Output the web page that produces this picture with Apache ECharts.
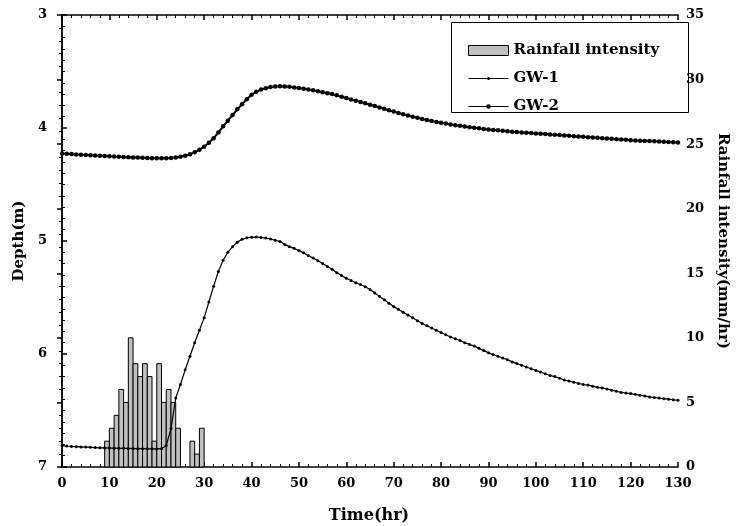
<!DOCTYPE html>
<html>
<head>
<meta charset="utf-8">
<script src="https://cdn.jsdelivr.net/npm/echarts@6/dist/echarts.min.js"></script>
<style>
    html, body { margin: 0; padding: 0; background: #fff; }
    #chart { width: 738px; height: 526px; }
</style>
</head>
<body>
<div id="chart"></div>
<script>
// 降雨强度：每小时一根柱子（时间为柱子中心）
const rainHours = [9.5, 10.5, 11.5, 12.5, 13.5, 14.5, 15.5, 16.5, 17.5, 18.5, 19.5, 20.5, 21.5, 22.5, 23.5, 24.5, 27.5, 28.5, 29.5];
const rainValues = [2, 3, 4, 6, 5, 10, 8, 7, 8, 7, 2, 8, 5, 6, 5, 3, 2, 1, 3];

// 地下水位深度，0~130 hr 每小时一个值
const gw1 = [
    6.810, 6.815, 6.818, 6.820, 6.822, 6.824, 6.826, 6.828, 6.830, 6.831,
    6.832, 6.833, 6.834, 6.835, 6.836, 6.837, 6.838, 6.838, 6.839, 6.839,
    6.840, 6.838, 6.810, 6.660, 6.390, 6.270, 6.140, 6.020, 5.900, 5.790,
    5.680, 5.540, 5.400, 5.270, 5.170, 5.100, 5.050, 5.010, 4.985, 4.972,
    4.966, 4.965, 4.968, 4.974, 4.982, 4.993, 5.005, 5.030, 5.050, 5.065,
    5.085, 5.105, 5.130, 5.150, 5.175, 5.200, 5.225, 5.250, 5.280, 5.305,
    5.330, 5.350, 5.370, 5.385, 5.405, 5.430, 5.460, 5.490, 5.520, 5.550,
    5.580, 5.605, 5.630, 5.655, 5.680, 5.705, 5.730, 5.750, 5.770, 5.790,
    5.810, 5.830, 5.850, 5.865, 5.880, 5.900, 5.915, 5.930, 5.950, 5.970,
    5.990, 6.005, 6.020, 6.035, 6.050, 6.070, 6.085, 6.100, 6.115, 6.130,
    6.145, 6.160, 6.175, 6.190, 6.200, 6.215, 6.230, 6.240, 6.250, 6.260,
    6.270, 6.275, 6.285, 6.295, 6.300, 6.310, 6.320, 6.330, 6.340, 6.345,
    6.350, 6.357, 6.365, 6.372, 6.380, 6.385, 6.390, 6.395, 6.400, 6.405,
    6.410
];
const gw2 = [
    4.225, 4.228, 4.231, 4.234, 4.237, 4.240, 4.242, 4.244, 4.246, 4.248,
    4.250, 4.252, 4.254, 4.256, 4.258, 4.260, 4.262, 4.264, 4.266, 4.267,
    4.268, 4.268, 4.267, 4.265, 4.261, 4.255, 4.246, 4.233, 4.215, 4.192,
    4.165, 4.130, 4.090, 4.040, 3.985, 3.935, 3.885, 3.835, 3.790, 3.745,
    3.705, 3.680, 3.660, 3.648, 3.638, 3.633, 3.631, 3.632, 3.636, 3.641,
    3.647, 3.653, 3.660, 3.667, 3.675, 3.683, 3.692, 3.700, 3.711, 3.723,
    3.735, 3.747, 3.758, 3.770, 3.782, 3.794, 3.806, 3.818, 3.830, 3.843,
    3.855, 3.867, 3.878, 3.890, 3.900, 3.910, 3.920, 3.930, 3.938, 3.946,
    3.954, 3.961, 3.968, 3.975, 3.981, 3.987, 3.993, 3.998, 4.003, 4.008,
    4.013, 4.017, 4.021, 4.025, 4.029, 4.033, 4.036, 4.039, 4.042, 4.045,
    4.048, 4.051, 4.054, 4.057, 4.060, 4.063, 4.066, 4.069, 4.072, 4.075,
    4.078, 4.081, 4.084, 4.087, 4.090, 4.093, 4.096, 4.099, 4.102, 4.105,
    4.108, 4.110, 4.112, 4.114, 4.116, 4.118, 4.120, 4.122, 4.124, 4.126,
    4.128
];

// 坐标轴范围
const timeMin = 0, timeMax = 130, timeStep = 10;
const depthMin = 3, depthMax = 7, depthStep = 1;
const rainMin = 0, rainMax = 35, rainStep = 5;
const barSpan = 1; // 每根柱子占 1 hr

window.onload = function(){
    const font = 'DejaVu Serif';
    const chart = echarts.init(document.getElementById('chart'), null, {renderer: 'canvas'});

    const lineStyle = {color: '#000', width: 1.5};
    const labelStyle = {color: '#000', fontFamily: font, fontWeight: 'bold', fontSize: 13};
    const nameStyle = {color: '#000', fontFamily: font, fontWeight: 'bold', fontSize: 15};
    const barStyle = {color: '#c0c0c0', borderColor: '#000', borderWidth: 1};

    // 图例里的线+点图标（40x10）
    const iconGW1 = 'path://M0,4.5L40,4.5L40,5.5L0,5.5Z M18.5,5A1.5,1.5 0 1,1 21.5,5A1.5,1.5 0 1,1 18.5,5Z';
    const iconGW2 = 'path://M0,4.4L40,4.4L40,5.6L0,5.6Z M17.8,5A2.2,2.2 0 1,1 22.2,5A2.2,2.2 0 1,1 17.8,5Z';

    const option = {
        animation: false,
        backgroundColor: '#fff',
        grid: {left: 62, right: 46, top: 15, bottom: 59},
        legend: {
            orient: 'vertical',
            left: 463,
            top: 38,
            itemWidth: 40,
            itemHeight: 10,
            itemGap: 13,
            textStyle: {color: '#000', fontFamily: font, fontWeight: 'bold', fontSize: 15},
            data: [
                {name: 'Rainfall intensity', icon: 'rect', itemStyle: barStyle},
                {name: 'GW-1', icon: iconGW1, itemStyle: {color: '#000', borderWidth: 0}},
                {name: 'GW-2', icon: iconGW2, itemStyle: {color: '#000', borderWidth: 0}}
            ]
        },
        graphic: [{
            type: 'rect',
            left: 451, top: 22,
            shape: {width: 237, height: 90},
            style: {fill: 'rgba(255,255,255,0)', stroke: '#000', lineWidth: 1},
            z: 100
        }, {
            type: 'text',
            left: 'center',
            top: 508,
            style: {text: 'Time(hr)', fill: '#000', font: 'bold 16px "DejaVu Serif"'}
        }],
        xAxis: [{
            type: 'value',
            position: 'bottom',
            min: timeMin, max: timeMax, interval: timeStep,
            axisLine: {lineStyle: lineStyle},
            axisTick: {inside: true, length: 5, lineStyle: lineStyle},
            minorTick: {show: true, splitNumber: 5, length: 3, lineStyle: {color: '#000'}},
            axisLabel: Object.assign({margin: 10}, labelStyle),
            splitLine: {show: false}
        }, {
            type: 'value',
            position: 'top',
            min: timeMin, max: timeMax, interval: timeStep,
            axisLine: {lineStyle: lineStyle},
            axisTick: {inside: true, length: 5, lineStyle: lineStyle},
            minorTick: {show: true, splitNumber: 5, length: 3, lineStyle: {color: '#000'}},
            axisLabel: {show: false},
            splitLine: {show: false}
        }],
        yAxis: [{
            type: 'value',
            name: 'Depth(m)',
            nameLocation: 'middle',
            nameGap: 33,
            nameTextStyle: nameStyle,
            inverse: true,
            min: depthMin, max: depthMax, interval: depthStep,
            axisLine: {lineStyle: lineStyle},
            axisTick: {inside: true, length: 5, lineStyle: lineStyle},
            minorTick: {show: true, splitNumber: 10, length: 3, lineStyle: {color: '#000'}},
            axisLabel: Object.assign({margin: 15}, labelStyle),
            splitLine: {show: false}
        }, {
            type: 'value',
            name: 'Rainfall intensity(mm/hr)',
            nameLocation: 'middle',
            nameGap: 37,
            nameRotate: -90,
            nameTextStyle: nameStyle,
            position: 'right',
            min: rainMin, max: rainMax, interval: rainStep,
            axisLine: {lineStyle: lineStyle},
            axisTick: {inside: true, length: 5, lineStyle: lineStyle},
            minorTick: {show: true, splitNumber: 5, length: 3, lineStyle: {color: '#000'}},
            axisLabel: Object.assign({margin: 8}, labelStyle),
            splitLine: {show: false}
        }],
        series: [{
            name: 'Rainfall intensity',
            type: 'custom',
            xAxisIndex: 0,
            yAxisIndex: 1,
            itemStyle: barStyle,
            renderItem: function(params, api){
                const t = api.value(0), v = api.value(1);
                const p1 = api.coord([t - barSpan / 2, v]);
                const p2 = api.coord([t + barSpan / 2, 0]);
                return {
                    type: 'rect',
                    shape: {x: p1[0], y: p1[1], width: p2[0] - p1[0], height: p2[1] - p1[1]},
                    style: {fill: barStyle.color, stroke: '#000', lineWidth: 1}
                };
            },
            encode: {x: 0, y: 1},
            data: rainHours.map((t, i) => [t, rainValues[i]]),
            z: 1
        }, {
            name: 'GW-1',
            type: 'line',
            xAxisIndex: 0,
            yAxisIndex: 0,
            symbol: 'circle',
            symbolSize: 3,
            showAllSymbol: true,
            lineStyle: {color: '#000', width: 1.2},
            itemStyle: {color: '#000'},
            data: gw1.map((d, i) => [i, d]),
            z: 3
        }, {
            name: 'GW-2',
            type: 'line',
            xAxisIndex: 0,
            yAxisIndex: 0,
            symbol: 'circle',
            symbolSize: 4.5,
            showAllSymbol: true,
            lineStyle: {color: '#000', width: 2},
            itemStyle: {color: '#000'},
            data: gw2.map((d, i) => [i, d]),
            z: 3
        }]
    };

    chart.setOption(option);
};
</script>
</body>
</html>
